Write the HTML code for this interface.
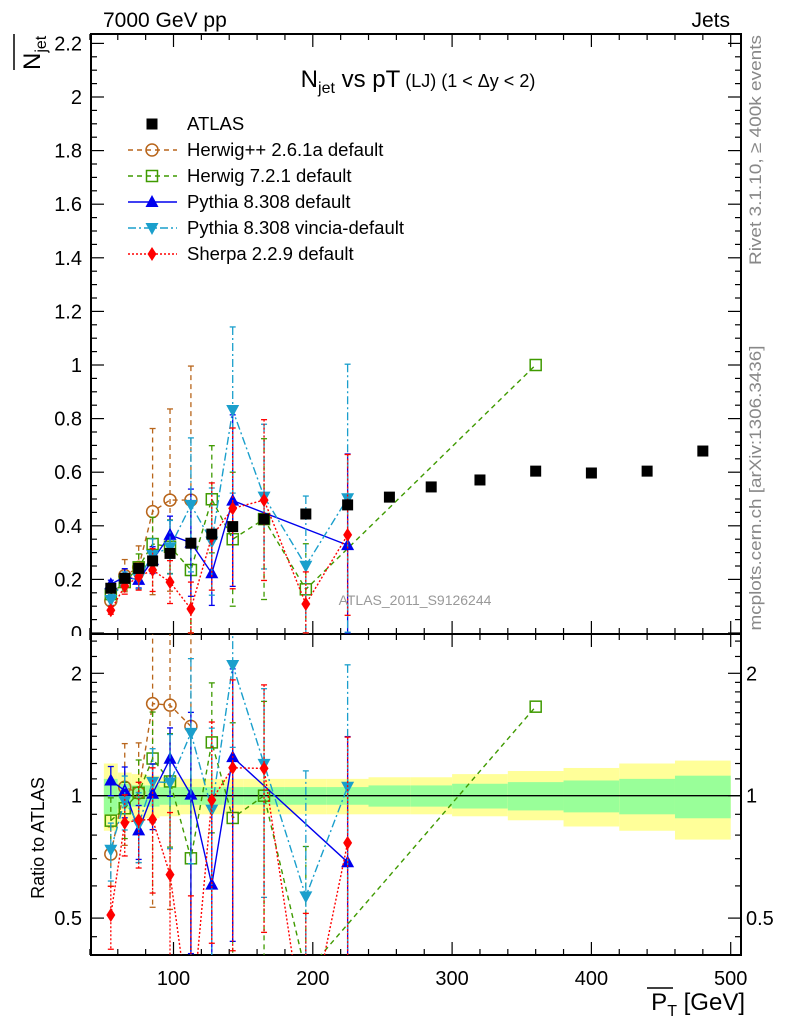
<!DOCTYPE html>
<html><head><meta charset="utf-8">
<style>
html,body{margin:0;padding:0;background:#fff;width:786px;height:1024px;overflow:hidden;}
svg{display:block;font-family:"Liberation Sans",Arial,sans-serif;}
</style></head>
<body>
<svg id="chart" width="786" height="1024" viewBox="0 0 786 1024" xmlns="http://www.w3.org/2000/svg">
<defs>
<clipPath id="clipMain"><rect x="91" y="34" width="650" height="600"/></clipPath>
<clipPath id="clipRatio"><rect x="91" y="634" width="650" height="321"/></clipPath>
</defs>
<g id="bands"></g>
<g id="axes"></g>
<g id="series"></g>
<text x="103" y="27" font-size="21">7000 GeV pp</text>
<text x="730" y="27" font-size="21" text-anchor="end">Jets</text>
<text x="418" y="87" font-size="24" text-anchor="middle">N<tspan font-size="16" dy="6">jet</tspan><tspan dy="-6"> vs pT</tspan><tspan font-size="18"> (LJ) (1 &lt; Δy &lt; 2)</tspan></text>
<text x="415" y="605" font-size="14" fill="#999" text-anchor="middle">ATLAS_2011_S9126244</text>
<text transform="translate(761,150) rotate(-90)" font-size="17" fill="#888" text-anchor="middle" textLength="230" lengthAdjust="spacingAndGlyphs">Rivet 3.1.10, ≥ 400k events</text>
<text transform="translate(761,488) rotate(-90)" font-size="17" fill="#888" text-anchor="middle" textLength="285" lengthAdjust="spacingAndGlyphs">mcplots.cern.ch [arXiv:1306.3436]</text>
<g>
<text transform="translate(40,70) rotate(-90)" font-size="24">N<tspan font-size="16" dy="6">jet</tspan></text>
<line x1="14" y1="70" x2="14" y2="34" stroke="#000" stroke-width="1.5"/>
</g>
<text transform="translate(44,838) rotate(-90)" font-size="18" text-anchor="middle">Ratio to ATLAS</text>
<g>
<text x="745" y="1010" font-size="24" text-anchor="end">P<tspan font-size="16" dy="6">T</tspan><tspan dy="-6"> [GeV]</tspan></text>
<line x1="647" y1="988" x2="673" y2="988" stroke="#000" stroke-width="1.5"/>
</g>
<g id="legend"></g>
</svg>
<script>
// ---- data ----
const atlasX = [55,65,75,85,97.5,112.5,127.5,142.5,165,195,225,255,285,320,360,400,440,480];
const atlasY = [0.167,0.204,0.241,0.269,0.297,0.335,0.369,0.397,0.425,0.444,0.478,0.507,0.545,0.571,0.604,0.597,0.604,0.679];
const herwigppX = [55,65,75,85,97.5,112.5];
const herwigppY = [0.12,0.214,0.245,0.453,0.496,0.496];
const herwigppErr = [0.02,0.06,0.08,0.31,0.34,0.5];
const herwig7X = [55,65,75,85,97.5,112.5,127.5,142.5,165,195,360];
const herwig7Y = [0.145,0.19,0.245,0.332,0.322,0.235,0.499,0.35,0.425,0.163,1.0];
const herwig7Err = [0.02,0.03,0.05,0.1,0.1,0.25,0.2,0.25,0.3,0.17,0];
const pythiaX = [55,65,75,85,97.5,112.5,127.5,142.5,225];
const pythiaY = [0.182,0.21,0.198,0.272,0.366,0.337,0.223,0.494,0.328];
const pythiaErr = [0.015,0.03,0.03,0.05,0.07,0.2,0.12,0.32,0.34];
const vinciaX = [55,65,75,85,97.5,112.5,127.5,142.5,165,195,225];
const vinciaY = [0.123,0.198,0.205,0.291,0.32,0.478,0.341,0.832,0.509,0.251,0.503];
const vinciaErr = [0.02,0.03,0.04,0.06,0.1,0.25,0.2,0.31,0.27,0.26,0.5];
const sherpaX = [55,65,75,85,97.5,112.5,127.5,142.5,165,195,225];
const sherpaY = [0.085,0.175,0.21,0.235,0.19,0.09,0.36,0.465,0.496,0.108,0.366];
const sherpaErr = [0.015,0.03,0.05,0.08,0.08,0.1,0.2,0.3,0.3,0.12,0.3];
const bandEdges = [50,60,70,80,90,105,120,135,150,180,210,240,270,300,340,380,420,460,500];
const bandYellowUp = [1.2,1.14,1.13,1.12,1.11,1.1,1.1,1.1,1.1,1.1,1.1,1.11,1.11,1.13,1.15,1.17,1.2,1.22];
const bandYellowDn = [0.82,0.86,0.87,0.88,0.89,0.9,0.9,0.9,0.9,0.9,0.9,0.9,0.9,0.89,0.87,0.84,0.82,0.78];
const bandGreenUp = [1.1,1.07,1.06,1.06,1.05,1.05,1.05,1.05,1.05,1.05,1.05,1.06,1.06,1.07,1.08,1.09,1.1,1.12];
const bandGreenDn = [0.9,0.93,0.94,0.94,0.95,0.95,0.95,0.95,0.95,0.95,0.95,0.94,0.94,0.93,0.92,0.91,0.9,0.88];
const yTickLabels = ["0","0.2","0.4","0.6","0.8","1","1.2","1.4","1.6","1.8","2","2.2"];
const xTickLabels = ["100","200","300","400","500"];
const rTickLabels = ["0.5","1","2"];

// ---- axes ----
const NS="http://www.w3.org/2000/svg";
const L=91,R=741,T=34,MB=634,RB=955;
function px(x){return 173.5+(x-100)*1.393;}
function py(y){return 633-y*268;}
function pr(r){return 795.7-Math.log2(r)*122.4;}
function mk(tag,attrs,parent){const e=document.createElementNS(NS,tag);for(const k in attrs)e.setAttribute(k,attrs[k]);parent.appendChild(e);return e;}
const axes=document.getElementById('axes');
const bands=document.getElementById('bands');
const series=document.getElementById('series');

for(let i=0;i<bandEdges.length-1;i++){
  const x1=px(bandEdges[i]),x2=px(bandEdges[i+1]);
  const y=mk('rect',{x:x1,y:pr(bandYellowUp[i]),width:x2-x1,height:pr(bandYellowDn[i])-pr(bandYellowUp[i]),fill:'#ffff99'},bands);
  
  
  const g=mk('rect',{x:x1,y:pr(bandGreenUp[i]),width:x2-x1,height:pr(bandGreenDn[i])-pr(bandGreenUp[i]),fill:'#99ff99'},bands);
  
  
}
const one=mk('line',{x1:L,x2:R,y1:pr(1),y2:pr(1),stroke:'#000','stroke-width':1.3},axes);



mk('rect',{x:L,y:T,width:R-L,height:MB-T,fill:'none',stroke:'#000','stroke-width':2},axes);
mk('rect',{x:L,y:MB,width:R-L,height:RB-MB,fill:'none',stroke:'#000','stroke-width':2},axes);
for(let x=40;x<=500;x+=20){
  const major=(x%100===0);const len=major?13:6;
  [T,MB].forEach(y0=>{mk('line',{x1:px(x),x2:px(x),y1:y0,y2:y0+len,stroke:'#000','stroke-width':1.2},axes);});
  [MB,RB].forEach(y0=>{mk('line',{x1:px(x),x2:px(x),y1:y0,y2:y0-len,stroke:'#000','stroke-width':1.2},axes);});
}
xTickLabels.forEach(s=>{const t=mk('text',{x:px(+s),y:985,'font-size':20,'text-anchor':'middle'},axes);t.textContent=s;
  
  });
for(let k=0;k<=44;k++){const v=k*0.05;const major=(k%4===0);const len=major?13:6;const y=py(v);
  mk('line',{x1:L,x2:L+len,y1:y,y2:y,stroke:'#000','stroke-width':1.2},axes);
  mk('line',{x1:R,x2:R-len,y1:y,y2:y,stroke:'#000','stroke-width':1.2},axes);}
yTickLabels.forEach(s=>{const t=mk('text',{x:82,y:py(+s)+7,'font-size':20,'text-anchor':'end'},axes);t.textContent=s;
  
  });
// white cover so "0" label is cut like the reference
mk('rect',{x:60,y:636,width:28,height:10,fill:'#fff'},axes);
const rMinor=[0.45,0.6,0.7,0.8,0.9,1.1,1.2,1.3,1.4,1.5,1.6,1.7,1.8,1.9,2.2,2.4];
rMinor.forEach(r=>{const y=pr(r);mk('line',{x1:L,x2:L+6,y1:y,y2:y,stroke:'#000','stroke-width':1.2},axes);mk('line',{x1:R,x2:R-6,y1:y,y2:y,stroke:'#000','stroke-width':1.2},axes);});
rTickLabels.forEach(s=>{const y=pr(+s);
  mk('line',{x1:L,x2:L+13,y1:y,y2:y,stroke:'#000','stroke-width':1.2},axes);mk('line',{x1:R,x2:R-13,y1:y,y2:y,stroke:'#000','stroke-width':1.2},axes);
  const t=mk('text',{x:82,y:y+7,'font-size':20,'text-anchor':'end'},axes);t.textContent=s;
  
  
  const t2=mk('text',{x:746,y:y+7,'font-size':20},axes);t2.textContent=s;
  
  });

function marker(type,x,y,color,parent){
  if(type==='sq') return mk('rect',{x:x-5.5,y:y-5.5,width:11,height:11,fill:'#000'},parent);
  if(type==='osq') return mk('rect',{x:x-5.5,y:y-5.5,width:11,height:11,fill:'none',stroke:color,'stroke-width':1.5},parent);
  if(type==='oc') return mk('circle',{cx:x,cy:y,r:6,fill:'none',stroke:color,'stroke-width':1.5},parent);
  if(type==='tu') return mk('polygon',{points:`${x},${y-7} ${x-6.5},${y+5} ${x+6.5},${y+5}`,fill:color},parent);
  if(type==='td') return mk('polygon',{points:`${x},${y+7} ${x-6.5},${y-5} ${x+6.5},${y-5}`,fill:color},parent);
  if(type==='di') return mk('polygon',{points:`${x},${y-7} ${x-4.5},${y} ${x},${y+7} ${x+4.5},${y}`,fill:color},parent);
}
const sims=[
 {name:'herwigpp',xs:herwigppX,ys:herwigppY,es:herwigppErr,color:'#b8651b',dash:'5,4',m:'oc'},
 {name:'herwig7',xs:herwig7X,ys:herwig7Y,es:herwig7Err,color:'#3f9a00',dash:'5,4',m:'osq'},
 {name:'pythia',xs:pythiaX,ys:pythiaY,es:pythiaErr,color:'#0000ee',dash:'',m:'tu'},
 {name:'vincia',xs:vinciaX,ys:vinciaY,es:vinciaErr,color:'#1a9fcc',dash:'8,3,2,3',m:'td'},
 {name:'sherpa',xs:sherpaX,ys:sherpaY,es:sherpaErr,color:'#ff0000',dash:'2,2',m:'di'}
];
function atlasAt(x){const i=atlasX.indexOf(x);return i>=0?atlasY[i]:null;}

const gm=mk('g',{'clip-path':'url(#clipMain)'},series);
const gr=mk('g',{'clip-path':'url(#clipRatio)'},series);
sims.forEach(s=>{
  ['main','ratio'].forEach(panel=>{
    const par=panel==='main'?gm:gr;
    const g=mk('g',{},par);
    
    
    const pts=[];
    s.xs.forEach((x,i)=>{
      let yv,yu,yd;
      if(panel==='main'){yv=py(s.ys[i]);yu=py(s.ys[i]+s.es[i]);yd=py(Math.max(s.ys[i]-s.es[i],0.0001));}
      else{const a=atlasAt(x);if(a===null)return;const r=s.ys[i]/a,e=s.es[i]/a;yv=pr(r);yu=pr(r+e);yd=pr(Math.max(r-e,0.01));}
      pts.push([px(x),yv]);
      if(s.es[i]>0){
        mk('line',{x1:px(x),x2:px(x),y1:yu,y2:yd,stroke:s.color,'stroke-width':1.3,'stroke-dasharray':s.dash},g);
        mk('line',{x1:px(x)-3,x2:px(x)+3,y1:yu,y2:yu,stroke:s.color,'stroke-width':1.3},g);
        mk('line',{x1:px(x)-3,x2:px(x)+3,y1:yd,y2:yd,stroke:s.color,'stroke-width':1.3},g);
      }
    });
    const pl=mk('polyline',{points:pts.map(p=>p.join(',')).join(' '),fill:'none',stroke:s.color,'stroke-width':1.4,'stroke-dasharray':s.dash},g);
    
    
    pts.forEach(p=>{const m=marker(s.m,p[0],p[1],s.color,g);
      
      });
  });
});
const ga=mk('g',{'clip-path':'url(#clipMain)'},series);


atlasX.forEach((x,i)=>{const m=marker('sq',px(x),py(atlasY[i]),'#000',ga);
  
  });

const leg=document.getElementById('legend');
const legItems=[['ATLAS',null],['Herwig++ 2.6.1a default',sims[0]],['Herwig 7.2.1 default',sims[1]],['Pythia 8.308 default',sims[2]],['Pythia 8.308 vincia-default',sims[3]],['Sherpa 2.2.9 default',sims[4]]];
legItems.forEach((it,k)=>{
  const y=124+k*26;
  const g=mk('g',{},leg);
  
  
  if(it[1]){mk('line',{x1:128,x2:177,y1:y,y2:y,stroke:it[1].color,'stroke-width':1.4,'stroke-dasharray':it[1].dash},g);marker(it[1].m,152,y,it[1].color,g);}
  else marker('sq',152,y,'#000',g);
  const t=mk('text',{x:187,y:y+6,'font-size':18.5},g);t.textContent=it[0];
});
</script>
</body></html>
